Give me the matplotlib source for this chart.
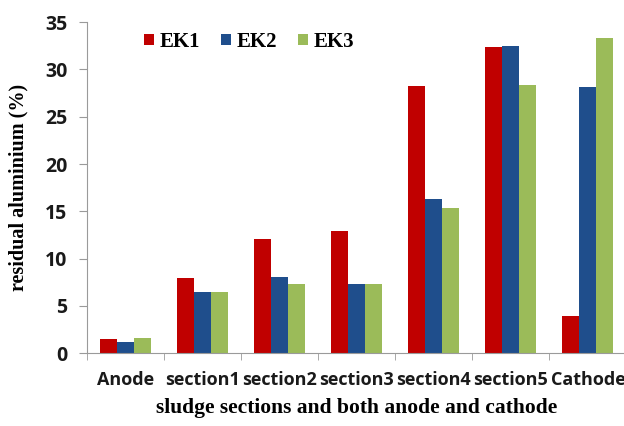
import numpy as np
import matplotlib.pyplot as plt

# categories and series
categories = ["Anode", "section1", "section2", "section3", "section4", "section5", "Cathode"]
ek1 = [1.5, 7.9, 12.1, 12.9, 28.3, 32.4, 3.9]
ek2 = [1.2, 6.5, 8.1, 7.3, 16.3, 32.5, 28.1]
ek3 = [1.6, 6.5, 7.3, 7.3, 15.4, 28.4, 33.3]
series_names = ["EK1", "EK2", "EK3"]

colors = ["#C00000", "#1F4E8C", "#9BBB59"]

fig = plt.figure(figsize=(6.24, 4.26), dpi=100)
ax = fig.add_axes([0.139, 0.171, 0.865, 0.777])

x = np.arange(len(categories))
width = 0.22
for i, (vals, name) in enumerate(zip([ek1, ek2, ek3], series_names)):
    ax.bar(x + (i - 1) * width, vals, width, color=colors[i], label=name)

ax.set_xlim(-0.5, len(categories) - 0.5)
ax.set_ylim(0, 35)
ax.set_yticks(range(0, 36, 5))
ax.set_xticks(x)
ax.set_xticklabels(categories)
ax.set_xticks(np.arange(-0.5, len(categories), 1), minor=True)
ax.tick_params(axis='x', which='major', length=0, pad=13)
ax.tick_params(axis='x', which='minor', length=5, color='#9a9a9a', direction='out')
ax.tick_params(axis='y', length=6, color='#9a9a9a', direction='out', pad=8)

for lab in ax.get_xticklabels():
    lab.set_family("Open Sans")
    lab.set_fontweight("bold")
    lab.set_fontsize(13)
    lab.set_color("#1a1a1a")
for lab in ax.get_yticklabels():
    lab.set_family("Open Sans")
    lab.set_fontweight("bold")
    lab.set_fontsize(14)
    lab.set_color("#1a1a1a")

for s in ["top", "right"]:
    ax.spines[s].set_visible(False)
for s in ["left", "bottom"]:
    ax.spines[s].set_color("#9a9a9a")

ax.set_ylabel("residual aluminium (%)", family="Liberation Serif", fontweight="bold",
              fontsize=14.5, labelpad=12)
ax.set_xlabel("sludge sections and both anode and cathode", family="Liberation Serif",
              fontweight="bold", fontsize=15.5, labelpad=6)

leg = ax.legend(loc="upper left", bbox_to_anchor=(0.072, 1.027), ncol=3, frameon=False,
                prop={"family": "Liberation Serif", "weight": "bold", "size": 15},
                handlelength=0.45, handleheight=0.45, handletextpad=0.3, columnspacing=1.0)

plt.savefig("out.png", dpi=100)
